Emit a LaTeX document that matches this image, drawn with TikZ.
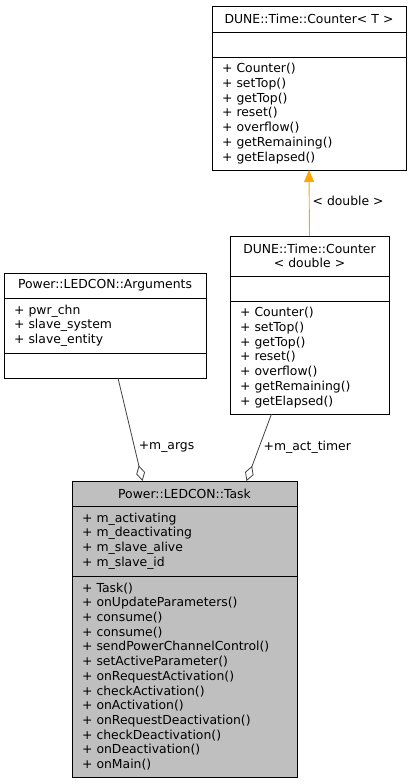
\documentclass[tikz,border=0pt]{standalone}
\usepackage{fontspec}
\setmainfont{DejaVu Sans}
\usetikzlibrary{positioning,arrows.meta}
\definecolor{inheritorange}{HTML}{FFA500}
\tikzset{
  part/.style={draw=black, line width=0.9pt, inner xsep=10pt, inner ysep=2pt, outer sep=0pt,
    align=left, font=\fontsize{12.4}{14.7}\selectfont},
  head/.style={part, align=center},
  task/.style={fill=black!25},
  lbl/.style={font=\fontsize{12.4}{14.7}\selectfont, inner sep=1pt},
  inherit/.style={draw=inheritorange, line width=0.9pt, -{Triangle[width=10pt,length=12pt]}},
  member/.style={draw=black!75, line width=0.8pt, -{Diamond[open,length=16pt,width=9pt]}}
}
\begin{document}
\begin{tikzpicture}[x=1pt,y=-1pt]
  \useasboundingbox (0,0) rectangle (412,784);
  % template class
  \node[head, text width=174pt, minimum height=26pt, anchor=north west] at (212,6) (Ct) {DUNE::Time::Counter< T >};
  \node[part, text width=174pt, minimum height=25pt, below=0pt of Ct] (Ca) {};
  \node[part, text width=174pt, minimum height=113pt, below=0pt of Ca] (Cm) {+ Counter()\\+ setTop()\\+ getTop()\\+ reset()\\+ overflow()\\+ getRemaining()\\+ getElapsed()};
  % instantiated counter
  \node[head, text width=139pt, minimum height=40pt, anchor=north west] at (230,236) (Dt) {DUNE::Time::Counter\\< double >};
  \node[part, text width=139pt, minimum height=25pt, below=0pt of Dt] (Da) {};
  \node[part, text width=139pt, minimum height=113pt, below=0pt of Da] (Dm) {+ Counter()\\+ setTop()\\+ getTop()\\+ reset()\\+ overflow()\\+ getRemaining()\\+ getElapsed()};
  % arguments
  \node[head, text width=182pt, minimum height=25pt, anchor=north west] at (4,273) (At) {Power::LEDCON::Arguments};
  \node[part, text width=182pt, minimum height=55pt, below=0pt of At] (Aa) {+ pwr\_chn\\+ slave\_system\\+ slave\_entity};
  \node[part, text width=182pt, minimum height=25pt, below=0pt of Aa] (Am) {};
  % task
  \node[head, task, text width=205pt, minimum height=25pt, anchor=north west] at (72,481) (Tt) {Power::LEDCON::Task};
  \node[part, task, text width=205pt, minimum height=70pt, below=0pt of Tt] (Ta) {+ m\_activating\\+ m\_deactivating\\+ m\_slave\_alive\\+ m\_slave\_id};
  \node[part, task, text width=205pt, minimum height=201pt, below=0pt of Ta] (Tm) {+ Task()\\+ onUpdateParameters()\\+ consume()\\+ consume()\\+ sendPowerChannelControl()\\+ setActiveParameter()\\+ onRequestActivation()\\+ checkActivation()\\+ onActivation()\\+ onRequestDeactivation()\\+ checkDeactivation()\\+ onDeactivation()\\+ onMain()};
  % links
  \draw[inherit] (Dt.north) -- node[lbl, pos=0.53, right=2pt] {< double >} (Cm.south);
  \draw[member] ([xshift=13pt]Am.south) -- node[lbl, pos=0.67, right=3pt] {+m\_args} ([xshift=-42pt]Tt.north);
  \draw[member] ([xshift=-38pt]Dm.south) -- node[lbl, pos=0.49, right=3pt] {+m\_act\_timer} ([xshift=62pt]Tt.north);
\end{tikzpicture}
\end{document}
